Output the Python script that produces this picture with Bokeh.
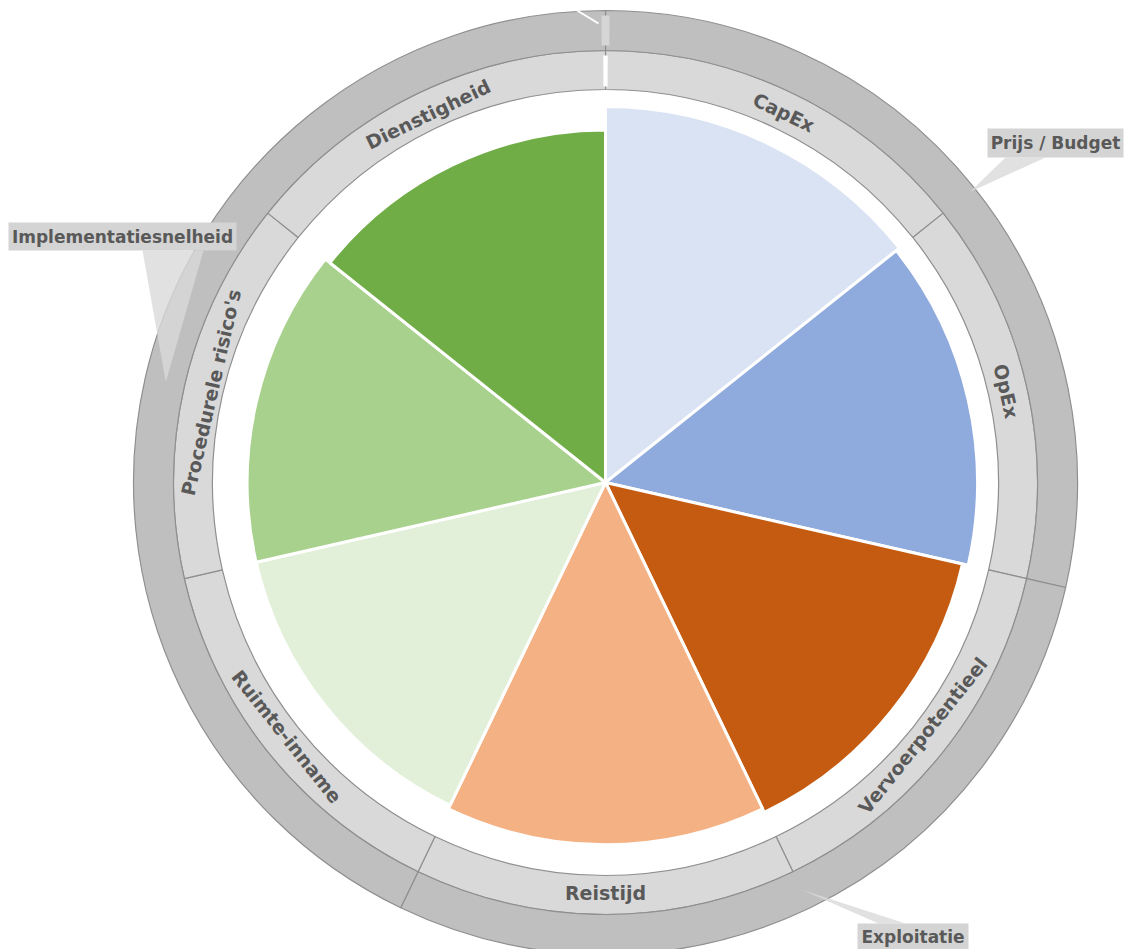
import math
from bokeh.plotting import figure
from bokeh.models import Range1d, ColumnDataSource
from bokeh.core.properties import value
from bokeh.embed import file_html
from bokeh.resources import INLINE

# ---------------- data ----------------
categories = ["CapEx", "OpEx", "Vervoerpotentieel", "Reistijd",
              "Ruimte-inname", "Procedurele risico's", "Dienstigheid"]
scores = [9.6, 9.5, 9.35, 9.25, 9.15, 9.15, 9.0]
weights = [1, 1, 1, 1, 1, 1, 1]
slice_colors = ["#DAE3F3", "#8FAADC", "#C55A11", "#F4B183",
                "#E2F0D9", "#A9D18E", "#70AD47"]
groups = ["Prijs / Budget", "Exploitatie", "Implementatiesnelheid"]
group_sizes = [2, 2, 3]

# ---------------- layout ----------------
W, H = 1125, 949
CX, CY = 605, H - 482
PX_PER_POINT = 39.0
R_IN1, R_IN2, R_OUT = 393, 432, 472
TEXT_COLOR = "#595959"
FONT = value("DejaVu Sans")

# callout layout (screen coordinates of label boxes, text centre, pointer bases, tip radius)
callout_layout = {
    "Prijs / Budget": dict(box=(987, 128, 1123, 157), ty=142.5, base=(1005, 1045, 157), tip_r=466),
    "Exploitatie": dict(box=(857, 923, 968, 949), ty=936.5, base=(878, 905, 923), tip_r=452),
    "Implementatiesnelheid": dict(box=(8, 222, 236, 250), ty=236, base=(142, 203, 250), tip_r=451),
}

DV_BOLD = {'a': .675, 'b': .716, 'c': .593, 'd': .716, 'e': .678, 'f': .435, 'g': .716,
           'h': .712, 'i': .343, 'j': .343, 'l': .343, 'm': 1.042, 'n': .712, 'o': .687,
           'p': .716, 'r': .493, 's': .595, 't': .478, 'u': .712, 'v': .652, 'x': .663,
           ' ': .348, "'": .275, '-': .415, '/': .365}


def text_width(s, px):
    return sum(DV_BOLD.get(c, .77) for c in s) * px


def sy(y_screen):
    return H - y_screen


def to_math(clock_deg):
    return math.radians(90 - clock_deg)


def polar(r, clock_deg):
    a = to_math(clock_deg)
    return CX + r * math.cos(a), CY + r * math.sin(a)


total = float(sum(weights))
bounds = [0.0]
for w in weights:
    bounds.append(bounds[-1] + 360.0 * w / total)

p = figure(width=W, height=H, x_range=Range1d(0, W), y_range=Range1d(0, H),
           output_backend="svg", toolbar_location=None, min_border=0)
p.axis.visible = False
p.grid.visible = False
p.outline_line_color = None
p.background_fill_color = "white"
p.border_fill_color = "white"

# ---------------- pie slices ----------------
src = ColumnDataSource(dict(
    x=[CX] * len(categories), y=[CY] * len(categories),
    r=[s * PX_PER_POINT + 1.5 for s in scores],
    start=[to_math(bounds[i + 1]) for i in range(len(categories))],
    end=[to_math(bounds[i]) for i in range(len(categories))],
    color=slice_colors, cat=categories,
))
p.wedge(x="x", y="y", radius="r", start_angle="start", end_angle="end",
        fill_color="color", line_color="white", line_width=3, source=src)

# ---------------- inner label ring ----------------
p.annular_wedge(x=CX, y=CY, inner_radius=R_IN1, outer_radius=R_IN2,
                start_angle=[to_math(bounds[i + 1]) for i in range(len(categories))],
                end_angle=[to_math(bounds[i]) for i in range(len(categories))],
                fill_color="#D9D9D9", line_color="#8F8F8F", line_width=1.2)

# ---------------- outer group ring ----------------
gb = [0]
for g in group_sizes:
    gb.append(gb[-1] + g)
p.annular_wedge(x=CX, y=CY, inner_radius=R_IN2, outer_radius=R_OUT,
                start_angle=[to_math(bounds[gb[i + 1]]) for i in range(len(groups))],
                end_angle=[to_math(bounds[gb[i]]) for i in range(len(groups))],
                fill_color="#BFBFBF", line_color="#8F8F8F", line_width=1.2)

# tiny empty segment at the top
p.annular_wedge(x=CX, y=CY, inner_radius=R_IN1 + 3, outer_radius=R_IN2 - 5,
                start_angle=to_math(0.3), end_angle=to_math(-0.3),
                fill_color="white", line_color=None)
p.annular_wedge(x=CX, y=CY, inner_radius=R_IN2 + 5, outer_radius=R_OUT - 5,
                start_angle=to_math(0.5), end_angle=to_math(-0.5),
                fill_color="#D6D6D6", line_color=None)
p.line(x=[575, 598], y=[sy(9), sy(23)], line_color="white", line_width=2)

# ---------------- ring labels ----------------
lx, ly, lang, ltxt = [], [], [], []
r_mid = (R_IN1 + R_IN2) / 2.0
for i, c in enumerate(categories):
    m = (bounds[i] + bounds[i + 1]) / 2.0
    w = text_width(c, 19)
    sag = (w / 2.0) ** 2 / (2 * r_mid)
    rc = r_mid - sag / 2.0 - 1
    x, y = polar(rc, m)
    rot = 180 - m if 90 < m < 270 else -m
    lx.append(x); ly.append(y); lang.append(math.radians(rot)); ltxt.append(c)
p.text(x=lx, y=ly, text=ltxt, angle=lang, text_font=FONT, text_font_style="bold",
       text_font_size="19px", text_align="center", text_baseline="middle",
       text_color=TEXT_COLOR)

# ---------------- callouts ----------------
for i, g in enumerate(groups):
    lay = callout_layout[g]
    m = (bounds[gb[i]] + bounds[gb[i + 1]]) / 2.0
    tx, ty = polar(lay["tip_r"], m)
    bx0, bx1, by = lay["base"]
    p.patch(x=[bx0, bx1, tx], y=[sy(by), sy(by), ty], fill_color="#D9D9D9",
            fill_alpha=0.8, line_color=None)
for i, g in enumerate(groups):
    lay = callout_layout[g]
    x0, y0, x1, y1 = lay["box"]
    p.quad(left=x0, right=x1, top=sy(y0), bottom=sy(y1), fill_color="#D4D4D4",
           line_color=None)
    p.text(x=[(x0 + x1) / 2.0], y=[sy(lay["ty"])], text=[g], text_font=FONT,
           text_font_style="bold", text_font_size="17px", text_align="center",
           text_baseline="middle", text_color=TEXT_COLOR)

open("out.html", "w").write(file_html(p, INLINE))
